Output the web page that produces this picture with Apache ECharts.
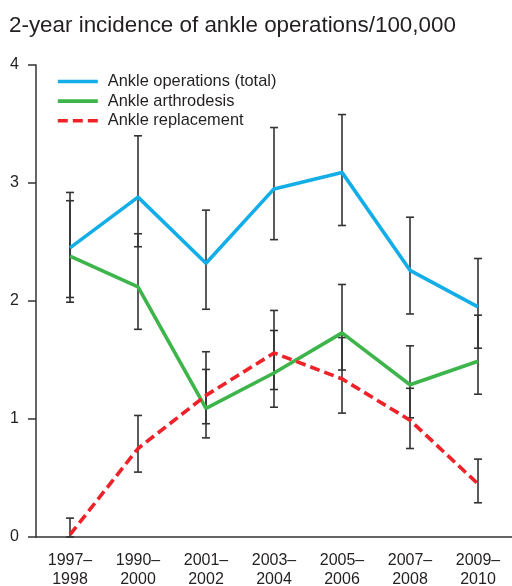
<!DOCTYPE html>
<html>
<head>
<meta charset="utf-8">
<script src="https://cdn.jsdelivr.net/npm/echarts@6/dist/echarts.min.js"></script>
<style>
html,body{margin:0;padding:0;background:#fff;}
#c{width:512px;height:586px;}
</style>
</head>
<body>
<div id="c"></div>
<script>
const categories = ['1997–\n1998','1990–\n2000','2001–\n2002','2003–\n2004','2005–\n2006','2007–\n2008','2009–\n2010'];
const yTicks = [0, 1, 2, 3, 4];
const seriesNames = ['Ankle operations (total)', 'Ankle arthrodesis', 'Ankle replacement'];
const totalValues = [2.45, 2.88, 2.32, 2.95, 3.09, 2.26, 1.95];
const totalLow    = [1.99, 2.46, 1.93, 2.52, 2.64, 1.89, 1.60];
const totalHigh   = [2.92, 3.40, 2.77, 3.47, 3.58, 2.71, 2.36];
const arthValues  = [2.38, 2.12, 1.09, 1.39, 1.73, 1.29, 1.49];
const arthLow     = [2.03, 1.76, 0.84, 1.10, 1.415, 1.01, 1.21];
const arthHigh    = [2.85, 2.57, 1.42, 1.75, 2.14, 1.62, 1.88];
const replValues  = [0.02, 0.75, 1.20, 1.56, 1.34, 0.99, 0.45];
const replLow     = [0.00, 0.55, 0.96, 1.25, 1.05, 0.75, 0.29];
const replHigh    = [0.16, 1.03, 1.57, 1.92, 1.69, 1.26, 0.66];

const FONT = '"Liberation Sans", Arial, Helvetica, sans-serif';
const TXT = '#231f20';

function errData(low, high) {
  return low.map((l, i) => [i, l, high[i]]);
}
function errSeries(low, high) {
  return {
    type: 'custom',
    silent: true,
    z: 1,
    data: errData(low, high),
    renderItem: function (params, api) {
      const x = api.value(0);
      const lo = api.coord([x, api.value(1)]);
      const hi = api.coord([x, api.value(2)]);
      const hw = 4;
      const style = { stroke: '#333333', lineWidth: 1.6 };
      return {
        type: 'group',
        children: [
          { type: 'line', shape: { x1: lo[0], y1: lo[1], x2: hi[0], y2: hi[1] }, style: style },
          { type: 'line', shape: { x1: lo[0] - hw, y1: lo[1], x2: lo[0] + hw, y2: lo[1] }, style: style },
          { type: 'line', shape: { x1: hi[0] - hw, y1: hi[1], x2: hi[0] + hw, y2: hi[1] }, style: style }
        ]
      };
    }
  };
}

const chart = echarts.init(document.getElementById('c'));
chart.setOption({
  animation: false,
  backgroundColor: '#ffffff',
  title: {
    text: '2-year incidence of ankle operations/100,000',
    left: 4, top: 10,
    textStyle: { fontFamily: FONT, fontSize: 22.4, fontWeight: 'normal', color: TXT }
  },
  legend: {
    orient: 'vertical',
    left: 56, top: 73.5,
    padding: 0,
    itemWidth: 40, itemHeight: 14, itemGap: 3.6,
    data: seriesNames,
    itemStyle: { opacity: 0 },
    lineStyle: { width: 3.6 },
    textStyle: { fontFamily: FONT, fontSize: 16.4, color: TXT, padding: [0, 0, 0, 5] }
  },
  grid: { left: 36, right: 0, top: 65, bottom: 49, containLabel: false, outerBoundsMode: 'none' },
  xAxis: {
    type: 'category',
    data: categories,
    boundaryGap: true,
    axisLine: { lineStyle: { color: '#333333', width: 1.5 } },
    axisTick: { alignWithLabel: true, length: 6, lineStyle: { color: '#333333', width: 1.5 } },
    axisLabel: { fontFamily: FONT, fontSize: 16, color: TXT, lineHeight: 19, margin: 14, interval: 0 },
    splitLine: { show: false }
  },
  yAxis: {
    type: 'value',
    min: yTicks[0], max: yTicks[yTicks.length - 1], interval: 1,
    axisLine: { show: true, lineStyle: { color: '#333333', width: 1.5 } },
    axisTick: { show: true, length: 8, lineStyle: { color: '#333333', width: 1.5 } },
    axisLabel: { fontFamily: FONT, fontSize: 16, color: TXT, margin: 17 },
    splitLine: { show: false }
  },
  series: [
    errSeries(totalLow, totalHigh),
    errSeries(arthLow, arthHigh),
    errSeries(replLow, replHigh),
    {
      name: seriesNames[0], type: 'line', data: totalValues, z: 3,
      symbol: 'none', showSymbol: false,
      lineStyle: { color: '#13aee8', width: 3.6 }, itemStyle: { color: '#13aee8' }
    },
    {
      name: seriesNames[1], type: 'line', data: arthValues, z: 3,
      symbol: 'none', showSymbol: false,
      lineStyle: { color: '#3db54a', width: 3.6 }, itemStyle: { color: '#3db54a' }
    },
    {
      name: seriesNames[2], type: 'line', data: replValues, z: 4,
      symbol: 'none', showSymbol: false,
      lineStyle: { color: '#ee2228', width: 3.6, type: [10, 5] }, itemStyle: { color: '#ee2228' }
    }
  ]
});
</script>
</body>
</html>
